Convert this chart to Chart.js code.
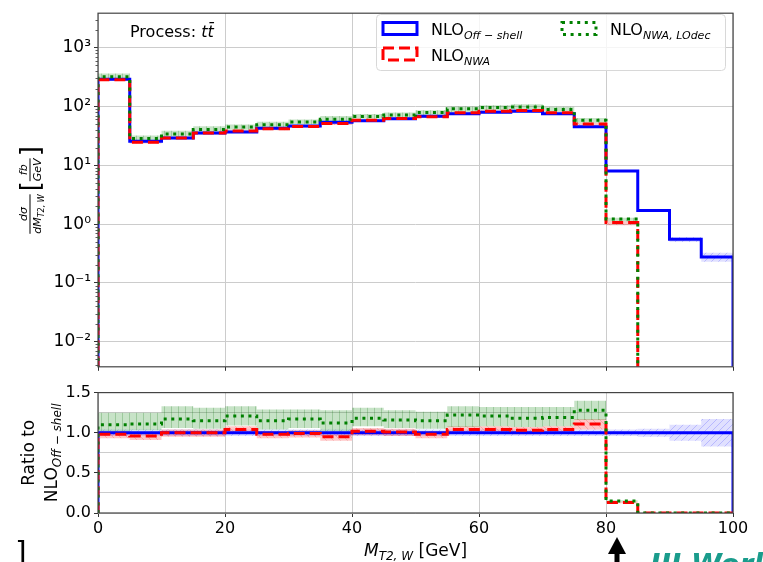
<!DOCTYPE html>
<html>
<head>
<meta charset="utf-8">
<title>MT2,W distribution</title>
<script src="https://cdn.jsdelivr.net/npm/chart.js@4.4.1/dist/chart.umd.min.js"></script>
<style>
  html, body { margin: 0; padding: 0; background: #fff; }
  body { position: relative; width: 763px; height: 562px; overflow: hidden; }
  canvas { position: absolute; left: 0; }
  #main { top: 0; }
  #ratio { top: 380px; }
</style>
</head>
<body>
<canvas id="main" width="763" height="380"></canvas>
<canvas id="ratio" width="763" height="182"></canvas>
<script>
// M_T2,W bin edges [GeV]
const binEdges = [0, 5, 10, 15, 20, 25, 30, 35, 40, 45, 50, 55, 60, 65, 70, 75, 80, 85, 90, 95, 100];

// dsigma/dM_T2,W [fb/GeV] per bin
const offShell = [291, 25.7, 29.0, 35.2, 36.9, 42.5, 46.3, 53.8, 57.0, 61.6, 68.3, 74.8, 79.6, 82.8, 74.8, 45.3, 8.0, 1.71, 0.55, 0.277];
const nwa      = [285, 24.7, 29.0, 35.2, 38.4, 41.7, 45.8, 51.1, 58.1, 62.2, 66.9, 77.8, 82.8, 85.3, 77.8, 50.3, 1.06, 0, 0, 0];
const nwaLOdec = [320, 28.5, 33.9, 40.5, 44.6, 48.9, 54.2, 60.3, 67.3, 71.5, 78.5, 91.3, 96.3, 97.7, 89.0, 58.0, 1.22, 0, 0, 0];

// ratios to NLO off-shell
const ratioOffShell = [1, 1, 1, 1, 1, 1, 1, 1, 1, 1, 1, 1, 1, 1, 1, 1, 1, 1, 1, 1];
const ratioNWA      = [0.98, 0.96, 1.00, 1.00, 1.04, 0.98, 0.99, 0.95, 1.02, 1.01, 0.98, 1.04, 1.04, 1.03, 1.04, 1.11, 0.13, 0, 0, 0];
const ratioLOdec    = [1.10, 1.11, 1.17, 1.15, 1.21, 1.15, 1.17, 1.12, 1.18, 1.16, 1.15, 1.22, 1.21, 1.18, 1.19, 1.28, 0.15, 0, 0, 0];

// scale uncertainty envelopes, relative to NLO off-shell
const offShellLo = [0.96, 0.96, 0.96, 0.96, 0.96, 0.96, 0.96, 0.96, 0.96, 0.96, 0.96, 0.96, 0.96, 0.96, 0.96, 0.96, 0.96, 0.95, 0.90, 0.83];
const offShellHi = [1.04, 1.04, 1.04, 1.04, 1.04, 1.04, 1.04, 1.04, 1.04, 1.04, 1.04, 1.04, 1.04, 1.04, 1.04, 1.04, 1.04, 1.05, 1.10, 1.17];
const nwaLo   = [0.93, 0.91, 0.95, 0.95, 0.99, 0.93, 0.94, 0.90, 0.97, 0.96, 0.93, 0.99, 0.99, 0.98, 0.99, 1.04, 0.12, 0, 0, 0];
const nwaHi   = [1.02, 1.00, 1.04, 1.04, 1.08, 1.02, 1.03, 0.99, 1.06, 1.05, 1.02, 1.08, 1.08, 1.07, 1.08, 1.17, 0.14, 0, 0, 0];
const lodecLo = [1.02, 1.03, 1.06, 1.05, 1.09, 1.04, 1.06, 1.02, 1.08, 1.06, 1.05, 1.07, 1.08, 1.07, 1.08, 1.16, 0.14, 0, 0, 0];
const lodecHi = [1.25, 1.25, 1.33, 1.31, 1.33, 1.29, 1.29, 1.28, 1.31, 1.28, 1.26, 1.33, 1.32, 1.32, 1.32, 1.40, 0.16, 0, 0, 0];

const logTicks = [1e-2, 1e-1, 1, 1e1, 1e2, 1e3];

const FONT = '"DejaVu Sans", sans-serif';
const BLUE = '#0000ff', RED = '#ff0000', GREEN = '#008000';
const GRID = '#cccccc', TICK = '#333333';
const DASH = [11, 5], DOTS = [3, 4.6];
const Y_MIN = 0.00375, Y_MAX = 3845;
const SUP = { '-': '\u207b', '0': '\u2070', '1': '\u00b9', '2': '\u00b2', '3': '\u00b3' };

function hatch(canvas, bg, fg, kind) {
  const n = 7;
  const c = document.createElement('canvas');
  c.width = c.height = n;
  const g = c.getContext('2d');
  g.fillStyle = bg;
  g.fillRect(0, 0, n, n);
  g.strokeStyle = fg;
  g.lineWidth = 1;
  g.beginPath();
  if (kind === '|') {
    g.moveTo(n / 2, 0); g.lineTo(n / 2, n);
  } else {
    for (const o of [-n, 0, n]) {
      if (kind === '/') { g.moveTo(o, n); g.lineTo(o + n, 0); }
      else { g.moveTo(o, 0); g.lineTo(o + n, n); }
    }
  }
  g.stroke();
  return canvas.getContext('2d').createPattern(c, 'repeat');
}

// histogram outline, closed down to the floor at both ends
function stepLine(vals, floor) {
  const pts = [{ x: binEdges[0], y: floor }];
  vals.forEach((v, i) => {
    const y = v > 0 ? v : floor;
    pts.push({ x: binEdges[i], y }, { x: binEdges[i + 1], y });
  });
  pts.push({ x: binEdges[binEdges.length - 1], y: floor });
  return pts;
}

// band edge over the filled bins only
function stepBand(vals) {
  const pts = [];
  vals.forEach((v, i) => {
    if (v > 0) pts.push({ x: binEdges[i], y: v }, { x: binEdges[i + 1], y: v });
  });
  return pts;
}

function panelDatasets(series, floor) {
  const sets = [];
  series.forEach((s, k) => {
    sets.push({ data: stepBand(s.lo), borderColor: 'transparent', borderWidth: 0, pointRadius: 0, fill: false, order: 20 - k });
    sets.push({ data: stepBand(s.hi), borderColor: 'transparent', borderWidth: 0, pointRadius: 0, fill: '-1', backgroundColor: s.pat, order: 20 - k });
  });
  series.forEach((s, k) => {
    sets.push({
      data: stepLine(s.vals, floor), borderColor: s.color, borderWidth: 3, borderDash: s.dash,
      borderCapStyle: 'butt', borderJoinStyle: 'miter', pointRadius: 0, fill: false, tension: 0, order: 5 - k
    });
  });
  return sets;
}

function textRuns(ctx, x, y, runs) {
  for (const [t, f, dy] of runs) {
    ctx.font = f;
    ctx.fillText(t, x, y + (dy || 0));
    x += ctx.measureText(t).width;
  }
  return x;
}

function runsWidth(ctx, runs) {
  let w = 0;
  for (const [t, f] of runs) { ctx.font = f; w += ctx.measureText(t).width; }
  return w;
}

function drawFrame(ctx, a) {
  ctx.save();
  ctx.strokeStyle = '#444';
  ctx.lineWidth = 1.2;
  ctx.setLineDash([]);
  ctx.strokeRect(a.left, a.top, a.right - a.left, a.bottom - a.top);
  ctx.restore();
}

const legendEntries = [
  { sub: 'Off \u2212 shell', color: BLUE, dash: [], col: 0, row: 0 },
  { sub: 'NWA', color: RED, dash: DASH, col: 0, row: 1 },
  { sub: 'NWA, LOdec', color: GREEN, dash: DOTS, col: 1, row: 0 }
];

const mainDecor = {
  id: 'mainDecor',
  afterDatasetsDraw(chart) {
    const { ctx, chartArea: a, scales: { y } } = chart;
    ctx.save();
    // minor log ticks
    ctx.strokeStyle = TICK;
    ctx.lineWidth = 0.8;
    for (let e = -3; e <= 3; e++) {
      for (let k = 2; k <= 9; k++) {
        const v = k * Math.pow(10, e);
        if (v < Y_MIN || v > Y_MAX) continue;
        const py = Math.round(y.getPixelForValue(v)) + 0.5;
        ctx.beginPath();
        ctx.moveTo(a.left - 2.5, py);
        ctx.lineTo(a.left, py);
        ctx.stroke();
      }
    }
    ctx.restore();
    drawFrame(ctx, a);
  },
  afterDraw(chart) {
    const { ctx, chartArea: a } = chart;
    ctx.save();
    ctx.textAlign = 'left';
    ctx.textBaseline = 'alphabetic';

    // legend
    ctx.beginPath();
    ctx.roundRect(376.5, 14.5, 349, 56, 4);
    ctx.fillStyle = 'rgba(255,255,255,0.8)';
    ctx.fill();
    ctx.strokeStyle = '#d8d8d8';
    ctx.lineWidth = 1;
    ctx.stroke();
    legendEntries.forEach(e => {
      const hx = 383 + e.col * 179, hy = 22.5 + e.row * 25.5;
      ctx.setLineDash(e.dash);
      ctx.strokeStyle = e.color;
      ctx.lineWidth = 3;
      ctx.strokeRect(hx, hy, 34, 12);
      ctx.setLineDash([]);
      ctx.fillStyle = '#000';
      textRuns(ctx, hx + 48, hy + 12.5, [['NLO', `16px ${FONT}`], [e.sub, `italic 11px ${FONT}`, 4]]);
    });

    // process label
    ctx.fillStyle = '#000';
    textRuns(ctx, 130, 37, [['Process: ', `16px ${FONT}`], ['t', `italic 16px ${FONT}`], ['t\u0304', `italic 16px ${FONT}`]]);

    // y title: dsigma/dM_T2,W [fb/GeV]
    ctx.translate(30, (a.top + a.bottom) / 2);
    ctx.rotate(-Math.PI / 2);
    const fr = `italic 11px ${FONT}`, sb = `italic 8px ${FONT}`, br = `26px ${FONT}`;
    const den1 = [['dM', fr], ['T2, W', sb, 2.5]];
    const w1 = runsWidth(ctx, den1);
    ctx.font = br;
    const wb = ctx.measureText('[').width;
    ctx.font = fr;
    const w2 = Math.max(ctx.measureText('fb').width, ctx.measureText('GeV').width);
    let x = -(w1 + 3 + wb + w2 + 2 + wb) / 2;
    ctx.textAlign = 'center';
    ctx.fillText('d\u03c3', x + w1 / 2, -3);
    ctx.fillRect(x, -0.5, w1, 1);
    ctx.textAlign = 'left';
    textRuns(ctx, x, 11, den1);
    x += w1 + 3;
    ctx.font = br;
    ctx.fillText('[', x, 9);
    x += wb;
    ctx.font = fr;
    ctx.textAlign = 'center';
    ctx.fillText('fb', x + w2 / 2, -3);
    ctx.fillRect(x, -0.5, w2, 1);
    ctx.fillText('GeV', x + w2 / 2, 11);
    x += w2 + 2;
    ctx.textAlign = 'left';
    ctx.font = br;
    ctx.fillText(']', x, 9);
    ctx.restore();
  }
};

const ratioDecor = {
  id: 'ratioDecor',
  afterDatasetsDraw(chart) {
    drawFrame(chart.ctx, chart.chartArea);
  },
  afterDraw(chart) {
    const { ctx, chartArea: a } = chart;
    ctx.save();
    ctx.fillStyle = '#000';
    ctx.textBaseline = 'alphabetic';

    // x title
    const xt = [['M', `italic 17px ${FONT}`], ['T2, W', `italic 12px ${FONT}`, 4], [' [GeV]', `17px ${FONT}`]];
    ctx.textAlign = 'left';
    textRuns(ctx, (a.left + a.right) / 2 - runsWidth(ctx, xt) / 2, 176, xt);

    // arrow marker under the 80 GeV tick
    ctx.beginPath();
    ctx.moveTo(617, 157);
    ctx.lineTo(626, 174);
    ctx.lineTo(608, 174);
    ctx.closePath();
    ctx.fill();
    ctx.fillRect(614.5, 173, 5, 10);

    // caption fragments along the lower edge
    ctx.fillStyle = '#1a9c8c';
    ctx.font = `italic bold 28px ${FONT}`;
    ctx.fillText('IJJ World', 650, 194);
    ctx.fillStyle = '#000';
    ctx.font = `30px ${FONT}`;
    ctx.fillText(']', 15, 183);

    // y title: Ratio to NLO_Off-shell
    ctx.translate(0, (a.top + a.bottom) / 2);
    ctx.rotate(-Math.PI / 2);
    ctx.textAlign = 'center';
    ctx.font = `17px ${FONT}`;
    ctx.fillText('Ratio to', 0, 34);
    ctx.textAlign = 'left';
    const yt = [['NLO', `17px ${FONT}`], ['Off \u2212 shell', `italic 12px ${FONT}`, 4]];
    textRuns(ctx, -runsWidth(ctx, yt) / 2, 57, yt);
    ctx.restore();
  }
};

const mainCanvas = document.getElementById('main');
const ratioCanvas = document.getElementById('ratio');

function bandPatterns(canvas) {
  return {
    blue: hatch(canvas, 'rgba(0,0,255,0.12)', 'rgba(0,0,255,0.18)', '/'),
    red: hatch(canvas, 'rgba(255,0,0,0.22)', 'rgba(200,0,0,0.16)', '\\'),
    green: hatch(canvas, 'rgba(0,128,0,0.22)', 'rgba(0,110,0,0.22)', '|')
  };
}

const pm = bandPatterns(mainCanvas);
const scaleBy = (vals, rel) => vals.map((v, i) => v * rel[i]);

new Chart(mainCanvas, {
  type: 'line',
  data: {
    datasets: panelDatasets([
      { vals: offShell, lo: scaleBy(offShell, offShellLo), hi: scaleBy(offShell, offShellHi), color: BLUE, dash: [], pat: pm.blue },
      { vals: nwa, lo: scaleBy(offShell, nwaLo), hi: scaleBy(offShell, nwaHi), color: RED, dash: DASH, pat: pm.red },
      { vals: nwaLOdec, lo: scaleBy(offShell, lodecLo), hi: scaleBy(offShell, lodecHi), color: GREEN, dash: DOTS, pat: pm.green }
    ], Y_MIN / 1000)
  },
  options: {
    responsive: false,
    animation: false,
    devicePixelRatio: 1,
    layout: { padding: { top: 5, right: 30, bottom: 0, left: 0 } },
    plugins: { legend: { display: false }, tooltip: { enabled: false } },
    scales: {
      x: {
        type: 'linear', min: 0, max: 100,
        ticks: { stepSize: 20, display: false },
        grid: { color: GRID, tickColor: TICK, tickLength: 4 },
        border: { display: false },
        afterFit: s => { s.height = 8; }
      },
      y: {
        type: 'logarithmic', min: Y_MIN, max: Y_MAX,
        afterBuildTicks: s => { s.ticks = logTicks.map(value => ({ value })); },
        ticks: {
          autoSkip: false, padding: 3, color: '#000', font: { family: FONT, size: 17 },
          callback: v => '10' + String(Math.round(Math.log10(v))).split('').map(c => SUP[c]).join('')
        },
        grid: { color: GRID, tickColor: TICK, tickLength: 4 },
        border: { display: false },
        afterFit: s => { s.width = 98; }
      }
    }
  },
  plugins: [mainDecor]
});

const pr = bandPatterns(ratioCanvas);
const isHalf = v => Math.abs(v * 2 - Math.round(v * 2)) < 1e-9;

new Chart(ratioCanvas, {
  type: 'line',
  data: {
    datasets: panelDatasets([
      { vals: ratioOffShell, lo: offShellLo, hi: offShellHi, color: BLUE, dash: [], pat: pr.blue },
      { vals: ratioNWA, lo: nwaLo, hi: nwaHi, color: RED, dash: DASH, pat: pr.red },
      { vals: ratioLOdec, lo: lodecLo, hi: lodecHi, color: GREEN, dash: DOTS, pat: pr.green }
    ], 0)
  },
  options: {
    responsive: false,
    animation: false,
    devicePixelRatio: 1,
    layout: { padding: { top: 11, right: 30, bottom: 0, left: 0 } },
    plugins: { legend: { display: false }, tooltip: { enabled: false } },
    scales: {
      x: {
        type: 'linear', min: 0, max: 100,
        ticks: { stepSize: 20, padding: 2, color: '#000', font: { family: FONT, size: 16 }, maxRotation: 0 },
        grid: { color: GRID, tickColor: TICK, tickLength: 4 },
        border: { display: false },
        afterFit: s => { s.height = 49; }
      },
      y: {
        type: 'linear', min: 0, max: 1.5,
        ticks: {
          stepSize: 0.25, autoSkip: false, padding: 3, color: '#000', font: { family: FONT, size: 16 },
          callback: v => isHalf(v) ? v.toFixed(1) : ''
        },
        grid: {
          color: GRID, tickLength: 4,
          tickColor: c => (c.tick && isHalf(c.tick.value)) ? TICK : 'rgba(0,0,0,0)'
        },
        border: { display: false },
        afterFit: s => { s.width = 98; }
      }
    }
  },
  plugins: [ratioDecor]
});
</script>
</body>
</html>
